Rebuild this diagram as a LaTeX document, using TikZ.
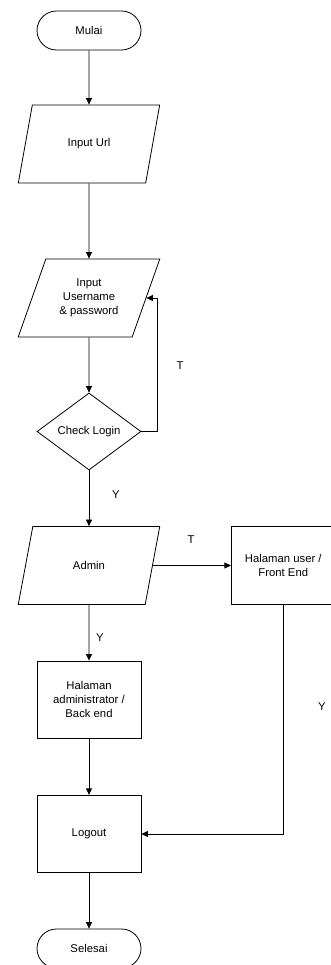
\documentclass[tikz,border=0pt]{standalone}
\usepackage{fontspec}
\setmainfont{Liberation Sans}
\usetikzlibrary{shapes.geometric,arrows.meta}
\begin{document}
\begin{tikzpicture}[x=1pt,y=-1pt,
  every node/.style={font=\fontsize{11.3}{13.8}\selectfont, align=center, inner sep=0pt},
  line/.style={draw=black, line width=0.8pt},
  arr/.style={line, -{Triangle[length=6.5pt,width=6pt]}},
  term/.style={line, rectangle, rounded corners=19.5pt, minimum width=104pt, minimum height=39pt},
  io/.style={line, trapezium, trapezium left angle=63.4, trapezium right angle=116.6, trapezium stretches=true, minimum width=142pt, minimum height=78pt},
  proc/.style={line, rectangle, minimum width=104pt, minimum height=77.5pt},
  dec/.style={line, diamond, minimum width=104pt, minimum height=77pt},
  lbl/.style={font=\fontsize{11.3}{13.8}\selectfont}
]
\useasboundingbox (0,0) rectangle (331,965);
\clip (0,0) rectangle (331,965);
\node[term] (mulai) at (89,30.5) {Mulai};
\node[io] (url) at (89,144) {Input Url};
\node[io] (user) at (89,298) {Input\\Username\\\& password};
\node[dec] (check) at (89,431.5) {Check Login};
\node[io] (admin) at (89,565.5) {Admin};
\node[proc] (front) at (283.3,565.5) {Halaman user /\\Front End};
\node[proc] (back) at (89,699.7) {Halaman\\administrator /\\Back end};
\node[proc] (logout) at (89,834) {Logout};
\node[term] (selesai) at (89,948.5) {Selesai};

\draw[arr] (mulai) -- (url);
\draw[arr] (url) -- (user);
\draw[arr] (user) -- (check);
\draw[arr] (check.east) -- ++(15.7,0) |- (user.east);
\draw[arr] (check) -- (admin);
\draw[arr] (admin.east) -- (front.west);
\draw[arr] (admin) -- (back);
\draw[arr] (back) -- (logout);
\draw[arr] (front.south) |- (logout.east);
\draw[arr] (logout) -- (selesai);

\node[lbl] (t1) at (180,366) {T};
\node[lbl] (y1) at (116,495) {Y};
\node[lbl] (t2) at (191,540) {T};
\node[lbl] (y2) at (100,638) {Y};
\node[lbl] (y3) at (322,706.7) {Y};
\end{tikzpicture}
\end{document}
